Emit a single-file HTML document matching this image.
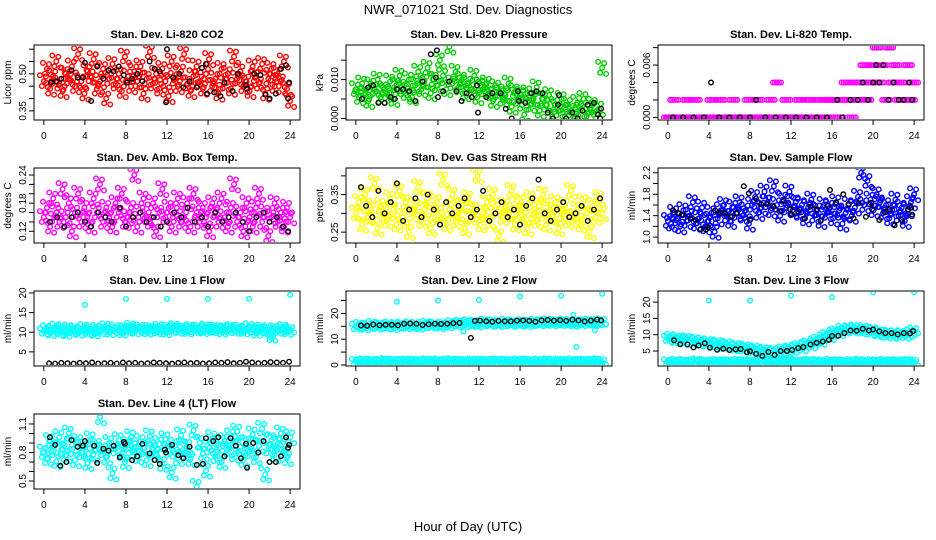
<!DOCTYPE html>
<html><head><meta charset="utf-8"><style>
body{margin:0;background:#fff}
svg{display:block;font-family:"Liberation Sans",Arial,sans-serif}
</style></head><body>
<svg id="chart" width="936" height="540" viewBox="0 0 936 540" xmlns="http://www.w3.org/2000/svg">
<defs id="defs"></defs>
<text x="468" y="14" font-size="13" text-anchor="middle">NWR_071021  Std. Dev. Diagnostics</text>
<text x="468" y="531" font-size="13" text-anchor="middle">Hour of Day (UTC)</text>
</svg>
<script>
const xTicks=[0,4,8,12,16,20,24];
// CO2
const co2Vals=[0.47,0.52,0.44,0.49,0.55,0.46,0.43,0.50,0.48,0.53,0.45,0.58,0.47,0.42,0.51,0.49,0.56,0.44,0.47,0.52,0.40,0.48,0.54,0.46,0.50,0.43,0.57,0.49,0.45,0.51,0.47,0.53,0.42,0.48,0.59,0.46,0.50,0.44,0.52,0.47,0.41,0.55,0.48,0.45,0.51,0.58,0.46,0.43,0.49,0.53,0.47,0.44,0.50,0.56,0.45,0.48,0.42,0.52,0.46,0.50,0.44,0.57,0.48,0.51,0.45,0.47,0.43,0.53,0.49,0.46,0.54,0.42,0.48,0.52,0.45,0.50,0.47,0.55,0.44,0.39];
const co2BlkH=[0.7,1.2,1.7,2.7,3.3,3.8,4.0,4.6,5.2,5.8,6.3,6.8,7.3,7.8,8.1,8.6,9.1,9.6,10.3,10.8,11.3,11.9,12.0,12.6,13.2,13.6,14.2,14.9,15.4,15.8,15.9,16.6,17.2,17.6,18.4,18.9,19.7,19.8,20.5,21.1,21.6,22.0,22.6,23.1,23.6,23.8,23.9];
const co2BlkV=[0.465,0.47,0.48,0.515,0.485,0.485,0.545,0.39,0.53,0.48,0.515,0.51,0.53,0.495,0.465,0.48,0.50,0.47,0.55,0.52,0.51,0.385,0.60,0.485,0.50,0.445,0.47,0.445,0.525,0.54,0.42,0.425,0.41,0.465,0.43,0.50,0.455,0.44,0.50,0.495,0.415,0.40,0.42,0.52,0.535,0.40,0.465];
// Pressure
const presVals=[0.0075,0.0055,0.0090,0.0065,0.0045,0.0085,0.0075,0.0100,0.0055,0.0075,0.0065,0.0095,0.0050,0.0085,0.0110,0.0075,0.0065,0.0100,0.0055,0.0085,0.0120,0.0075,0.0095,0.0130,0.0065,0.0100,0.0085,0.0150,0.0110,0.0075,0.0185,0.0090,0.0120,0.0080,0.0100,0.0065,0.0090,0.0075,0.0110,0.0055,0.0085,0.0075,0.0090,0.0065,0.0045,0.0080,0.0070,0.0050,0.0060,0.0090,0.0030,0.0070,0.0050,0.0060,0.0010,0.0065,0.0035,0.0050,0.0080,0.0020,0.0050,0.0035,0.0060,0.0005,0.0035,0.0020,0.0050,0.0005,0.0035,0.0020,0.0000,0.0040,0.0020,0.0050,0.0005,0.0025,0.0035,0.0000,0.0025,0.0130];
const presBlkH=[0.6,1.2,1.7,2.2,2.8,3.4,3.8,4.0,4.6,5.2,5.8,6.5,7.3,7.8,8.0,7.9,8.5,9.1,9.8,10.3,10.8,11.3,11.8,11.9,12.7,13.3,14.1,14.6,15.2,15.8,15.9,16.5,17.1,17.6,18.2,18.7,19.2,19.7,19.8,20.5,21.1,21.6,22.1,22.6,23.2,23.6,23.8,23.9];
const presBlkV=[0.005,0.008,0.0085,0.004,0.004,0.0055,0.005,0.0075,0.0075,0.007,0.0045,0.0095,0.0165,0.0105,0.0055,0.0175,0.007,0.0095,0.007,0.0045,0.0065,0.0055,0.0085,0.0015,0.0055,0.0065,0.0065,0.0025,0.000,0.007,0.0045,0.004,0.0065,0.007,0.0065,0.0015,0.000,0.0035,0.006,0.000,0.0015,0.000,0.002,0.0035,0.004,0.001,0.000,0.0025];
// Temp
const tempVals=[0,0,0.002,0,0,0,0.002,0,0,0.002,0,0,0,0,0.002,0,0,0.002,0,0,0,0.002,0,0,0,0,0.002,0,0,0.002,0,0,0,0.002,0,0.004,0,0,0.002,0,0,0,0.002,0,0,0.002,0,0,0.002,0,0,0.002,0.002,0,0.002,0,0.002,0.004,0.002,0,0.004,0.002,0.004,0.006,0.002,0.004,0.006,0.008,0.004,0.006,0.002,0.008,0.004,0.006,0.002,0.004,0.002,0.006,0.002,0.004];
const tempBlkH=[0.5,1.5,2.5,3.5,4.2,5,6,7,8,8.6,9.5,10.5,11.5,12.5,13.5,14.5,15.5,16.5,17,17.8,18.5,19,19.5,20,20.3,20.6,21,21.5,22,22.5,23,23.5,23.8];
const tempBlkV=[0,0,0,0,0.004,0,0,0,0,0.002,0,0,0,0,0,0,0,0.002,0,0.002,0.002,0.004,0.002,0.004,0.006,0.004,0.006,0.002,0.004,0.002,0.002,0.004,0.002];
// Amb box temp
const ambVals=[0.15,0.17,0.13,0.19,0.16,0.14,0.21,0.15,0.18,0.12,0.16,0.20,0.14,0.17,0.15,0.13,0.19,0.16,0.22,0.14,0.17,0.15,0.13,0.18,0.16,0.20,0.14,0.15,0.17,0.24,0.13,0.16,0.19,0.15,0.14,0.18,0.12,0.16,0.21,0.15,0.17,0.13,0.16,0.19,0.14,0.15,0.18,0.13,0.20,0.16,0.14,0.17,0.15,0.12,0.18,0.16,0.14,0.19,0.15,0.13,0.17,0.22,0.14,0.16,0.12,0.18,0.15,0.13,0.17,0.20,0.14,0.16,0.11,0.15,0.18,0.14,0.16,0.13,0.17,0.15];
const ambBlkH=[0.6,1.3,2,2.7,3.3,4,4.6,5.3,6,6.6,7.4,8,8.7,9.4,10,10.7,11.4,12,12.7,13.4,14,14.7,15.4,16,16.7,17.4,18,18.7,19.4,20,20.7,21.4,22,22.7,23.3,23.8];
const ambBlkV=[0.14,0.15,0.13,0.15,0.16,0.14,0.13,0.16,0.15,0.14,0.17,0.13,0.15,0.16,0.14,0.15,0.13,0.14,0.16,0.15,0.17,0.14,0.15,0.13,0.16,0.14,0.15,0.16,0.14,0.12,0.15,0.16,0.14,0.15,0.13,0.12];
// RH
const rhVals=[0.30,0.33,0.27,0.35,0.29,0.31,0.38,0.26,0.32,0.30,0.28,0.34,0.31,0.27,0.36,0.29,0.33,0.25,0.30,0.32,0.37,0.28,0.31,0.34,0.26,0.30,0.33,0.29,0.39,0.27,0.31,0.35,0.28,0.30,0.32,0.26,0.34,0.29,0.31,0.40,0.27,0.30,0.33,0.28,0.35,0.31,0.24,0.29,0.32,0.30,0.36,0.27,0.31,0.33,0.29,0.26,0.34,0.30,0.28,0.32,0.35,0.27,0.31,0.29,0.33,0.26,0.30,0.32,0.28,0.36,0.29,0.31,0.27,0.33,0.30,0.25,0.32,0.29,0.34,0.30];
const rhBlkH=[0.5,1.0,1.6,2.2,2.8,3.4,4.0,4.6,5.2,5.8,6.4,7.0,7.6,8.2,8.8,9.4,10,10.6,11.2,11.8,12.4,13,13.6,14.2,14.8,15.4,16,16.6,17.2,17.8,18.4,19,19.6,20.2,20.8,21.4,22,22.6,23.2,23.8];
const rhBlkV=[0.37,0.32,0.29,0.36,0.30,0.33,0.38,0.28,0.31,0.34,0.29,0.35,0.31,0.27,0.33,0.30,0.32,0.34,0.29,0.31,0.36,0.28,0.30,0.33,0.29,0.31,0.27,0.32,0.34,0.39,0.30,0.28,0.31,0.33,0.29,0.30,0.32,0.28,0.31,0.34];
// Sample flow
const sfVals=[1.30,1.25,1.45,1.35,1.20,1.50,1.30,1.40,1.65,1.25,1.35,1.55,1.20,1.30,1.45,1.10,1.35,1.50,1.60,1.40,1.30,1.55,1.45,1.65,1.40,1.50,1.25,1.60,1.75,1.45,1.55,1.85,1.65,1.50,1.95,1.60,1.40,1.70,1.55,1.85,1.50,1.65,1.45,1.60,1.35,1.55,1.70,1.40,1.50,1.30,1.60,1.45,1.55,1.35,1.65,1.50,1.25,1.45,1.60,1.40,1.55,1.75,2.20,1.60,2.05,1.70,1.50,1.80,1.65,1.45,1.60,1.35,1.50,1.70,1.40,1.55,1.30,1.50,1.65,1.80];
const sfBlkH=[0.5,1,1.5,2.2,2.7,3.2,3.7,3.9,4.6,5.1,5.6,6.1,6.7,7.4,7.9,8.0,8.6,9.1,9.7,10.3,10.9,11.3,11.9,12.1,12.7,13.3,13.9,14.5,14.9,15.6,15.8,16.4,17.1,17.6,18.1,18.6,19.3,19.8,19.9,20.6,21.1,21.6,22.1,22.8,23.4,23.7,23.8];
const sfBlkV=[1.5,1.45,1.42,1.35,1.32,1.15,1.14,1.18,1.50,1.46,1.44,1.38,1.45,1.95,1.82,1.32,1.72,1.61,1.62,1.57,1.48,1.68,1.52,1.42,1.48,1.35,1.57,1.52,1.31,1.58,1.88,1.64,1.8,1.62,1.35,1.63,1.38,1.64,1.52,1.32,1.47,1.52,1.22,1.32,1.52,1.55,1.42];
// Line 1
const l1Vals=[10.2,11.0,9.8,10.6,11.4,10.0,10.8,9.6,11.2,10.4,10.9,9.9,10.5,11.3,10.1,10.7,9.7,11.1,10.3,10.8,11.5,10.0,10.6,11.2,10.4,9.9,11.0,10.7,11.6,10.2,10.9,11.3,10.5,10.1,11.1,10.8,10.3,11.4,10.6,10.0,11.2,10.7,11.5,10.4,10.9,11.0,10.2,11.3,10.6,10.8,11.1,10.3,11.4,10.7,10.5,11.2,10.9,10.1,11.0,10.6,11.3,10.4,10.8,11.1,10.2,10.7,11.5,10.5,9.8,10.9,11.2,10.3,10.6,8.6,11.0,10.4,10.8,11.3,10.1,10.7];
const l1OutH=[4,8,12,16,20,24];
const l1OutV=[17,18.5,18.5,18.5,18.5,19.5];
const l1BlkH=[0.5,1.1,1.7,2.3,2.9,3.5,4.1,4.7,5.3,5.9,6.5,7.1,7.7,8.3,8.9,9.5,10.1,10.7,11.3,11.9,12.5,13.1,13.7,14.3,14.9,15.5,16.1,16.7,17.3,17.9,18.5,19.1,19.7,20.3,20.9,21.5,22.1,22.7,23.3,23.9];
const l1BlkV=[2.1,2.0,2.2,2.1,2.0,2.2,2.1,2.3,2.0,2.1,2.2,2.0,2.3,2.1,2.2,2.0,2.1,2.3,2.2,2.1,2.0,2.2,2.3,2.1,2.2,2.0,2.1,2.3,2.2,2.4,2.1,2.2,2.5,2.3,2.1,2.2,2.4,2.3,2.2,2.5];
// Line 2
const l2Vals=[14.8,15.5,14.6,15.2,15.9,14.9,15.4,15.1,15.7,14.7,15.3,15.6,15.0,15.8,15.2,14.9,15.5,16.0,15.3,15.7,15.1,15.6,15.4,16.2,15.8,16.4,15.9,16.6,16.1,15.7,16.3,16.8,16.0,16.5,15.9,16.2,16.7,16.0,16.4,16.1,16.6,15.9,16.3,16.8,16.2,16.5,17.0,16.1,16.6,16.3,16.9,16.4,16.0,16.7,16.2,16.5,16.8,16.3,16.6,16.9];
const l2LowVals=[1.2,1.0,1.4,1.1,1.3,1.0,1.2,1.5,1.1,1.3,1.0,1.2,1.4,1.1,1.3,1.2,1.0,1.4,1.2,1.1,1.3,1.0,1.2,1.5,1.1,1.3,1.2,1.0,1.4,1.1,1.2,1.3,1.0,1.2,1.4,1.1,1.3,1.2,1.0,1.4,1.1,1.3,1.2,1.0,1.3,1.1,1.4,1.2,1.0,1.3,1.2,1.1,1.4,1.0,1.2,1.3,1.1,1.2,1.4,1.2];
const l2OutH=[4,8,10.5,12,16,20,21.2,21.5,23.3,24];
const l2OutV=[24.5,25,13,25.2,26.6,26.8,19.5,7,13.5,27.6];
const l2BlkH=[0.5,1.1,1.7,2.3,2.9,3.5,4.1,4.7,5.3,5.9,6.5,7.1,7.7,8.3,8.9,9.5,10.1,11.2,11.6,12.1,12.7,13.3,13.9,14.5,15.1,15.7,16.3,16.9,17.5,18.1,18.7,19.3,19.9,20.5,21.1,21.7,22.3,22.9,23.5,23.9];
const l2BlkV=[15.3,15.2,15.7,15.4,15.6,15.6,15.4,16.0,16.1,16.0,15.5,15.8,16.0,15.9,16.0,16.2,16.3,10.5,17.1,17.2,17.0,16.8,17.1,17.0,16.9,17.2,17.3,17.1,16.8,17.3,17.5,17.2,17.4,17.1,17.6,17.3,16.9,17.2,17.6,17.3];
// Line 3
const l3Vals=[8.8,9.4,8.2,9.0,8.6,7.9,8.9,8.3,7.6,8.5,7.8,8.2,7.1,7.9,7.4,6.8,7.6,6.9,6.4,7.2,6.5,5.9,6.7,6.0,5.5,6.3,5.6,5.1,5.9,5.2,4.6,5.4,4.8,4.3,5.1,4.5,4.9,5.5,5.0,5.8,5.3,6.1,6.5,5.9,6.9,7.3,6.8,7.9,8.4,7.9,9.2,9.8,9.3,10.6,11.0,10.5,11.8,11.3,12.0,11.5,12.2,11.6,11.1,12.0,11.4,10.8,11.5,10.2,10.9,10.4,9.8,10.6,9.6,10.3,9.9,10.5,9.7,10.2,10.8,11.3];
const l3LowVals=[1.5,1.3,1.7,1.4,1.6,1.3,1.5,1.8,1.4,1.6,1.3,1.5,1.7,1.4,1.6,1.5,1.3,1.7,1.5,1.4,1.6,1.3,1.5,1.8,1.4,1.6,1.5,1.3,1.7,1.4,1.5,1.6,1.3,1.5,1.7,1.4,1.6,1.5,1.3,1.7,1.4,1.6,1.5,1.3,1.6,1.4,1.7,1.5,1.3,1.6,1.5,1.4,1.7,1.3,1.5,1.6,1.4,1.5,1.7,1.5];
const l3OutH=[4,8,12,16,20,24];
const l3OutV=[20.5,20.5,22,21.5,23,23];
const l3BlkH=[0.6,1.2,1.9,2.5,3.0,3.6,4.1,4.8,5.4,6.0,6.6,7.1,7.7,8.0,8.6,9.2,9.8,10.4,11.0,11.6,12.1,12.7,13.2,13.9,14.5,15.1,15.7,16.0,16.6,17.2,17.8,18.4,19.0,19.6,20.0,20.6,21.2,21.8,22.4,23.0,23.6,23.9];
const l3BlkV=[8.3,7.1,7.0,6.1,6.7,7.4,6.0,5.4,5.7,5.3,5.5,5.6,4.6,4.9,4.1,3.5,4.7,3.8,5.0,5.0,5.3,5.9,6.2,7.0,7.5,7.9,8.4,9.6,9.7,10.5,11.3,11.2,11.8,11.3,11.6,11.0,10.5,10.5,10.1,10.5,10.4,11.1];
// Line 4
const l4Vals=[0.80,0.74,0.92,0.86,0.71,0.96,0.83,0.77,1.00,0.88,0.72,0.91,0.80,0.85,0.69,0.94,0.78,0.87,1.17,0.82,0.75,0.90,0.58,0.84,0.93,0.79,0.70,0.88,0.96,0.81,0.76,0.91,0.85,0.72,0.97,0.83,0.78,0.89,0.68,0.94,0.82,0.59,0.87,0.74,0.98,0.80,0.86,0.73,1.03,0.44,0.90,0.79,0.61,0.85,0.95,0.76,0.88,0.70,0.92,0.83,0.97,0.78,1.02,0.86,0.72,0.90,0.81,0.99,0.75,0.87,1.05,0.57,0.84,0.93,0.77,0.89,1.00,0.82,0.74,0.96];
const l4BlkH=[0.6,1.1,1.6,2.2,2.7,3.3,3.8,4.0,4.9,5.2,5.8,6.3,6.8,7.4,7.8,7.9,8.6,9.1,9.6,10.3,10.8,11.3,11.8,11.9,12.5,13.1,13.6,14.2,14.9,15.5,15.8,16.5,17.0,17.6,18.2,18.7,19.2,19.7,19.8,20.4,20.9,21.4,22.0,22.6,23.1,23.6,23.8,23.9];
const l4BlkV=[0.96,0.88,0.66,0.70,0.93,0.86,0.87,0.92,0.87,0.69,0.84,0.82,0.87,0.75,0.91,0.89,0.72,0.76,0.89,0.79,0.72,0.68,0.83,0.80,0.88,0.77,0.74,0.86,0.67,0.68,0.95,0.92,0.96,0.76,0.95,0.87,0.74,0.89,0.64,0.90,0.80,0.92,0.70,0.70,0.76,0.96,0.85,0.88];

const panels=[
 {name:'co2',title:'Stan. Dev. Li-820 CO2',ylab:'Licor ppm',col:0,row:0,ymin:0.313,ymax:0.617,ticks:[0.35,0.40,0.45,0.50,0.55,0.60],labels:['0.35','','','0.50','',''],spread:[4,6],
  series:[{v:co2Vals,c:'#ff0000',dense:true},{h:co2BlkH,v:co2BlkV,c:'#000'}]},
 {name:'pressure',title:'Stan. Dev. Li-820 Pressure',ylab:'kPa',col:1,row:0,ymin:-0.0004,ymax:0.0189,ticks:[0,0.005,0.010,0.015],labels:['0.000','','0.010',''],spread:[4,6],
  series:[{v:presVals,c:'#00cd00',dense:true},{h:presBlkH,v:presBlkV,c:'#000'}]},
 {name:'temp',title:'Stan. Dev. Li-820 Temp.',ylab:'degrees C',col:2,row:0,ymin:-0.0003,ymax:0.0083,ticks:[0,0.002,0.004,0.006,0.008],labels:['0.000','','','0.006',''],spread:[4,0],
  series:[{v:tempVals,c:'#ff00ff',dense:true},{h:tempBlkH,v:tempBlkV,c:'#000'}]},
 {name:'amb-box',title:'Stan. Dev. Amb. Box Temp.',ylab:'degrees C',col:0,row:1,ymin:0.095,ymax:0.255,ticks:[0.12,0.14,0.16,0.18,0.20,0.22,0.24],labels:['0.12','','','0.18','','','0.24'],spread:[4,6],
  series:[{v:ambVals,c:'#ff00ff',dense:true},{h:ambBlkH,v:ambBlkV,c:'#000'}]},
 {name:'gas-rh',title:'Stan. Dev. Gas Stream RH',ylab:'percent',col:1,row:1,ymin:0.221,ymax:0.421,ticks:[0.25,0.30,0.35,0.40],labels:['0.25','','0.35',''],spread:[4,6],
  series:[{v:rhVals,c:'#ffff00',dense:true},{h:rhBlkH,v:rhBlkV,c:'#000'}]},
 {name:'sample-flow',title:'Stan. Dev. Sample Flow',ylab:'ml/min',col:2,row:1,ymin:0.89,ymax:2.29,ticks:[1.0,1.2,1.4,1.6,1.8,2.0,2.2],labels:['1.0','','1.4','','1.8','','2.2'],spread:[4,6],
  series:[{v:sfVals,c:'#0000ff',dense:true},{h:sfBlkH,v:sfBlkV,c:'#000'}]},
 {name:'line1',title:'Stan. Dev. Line 1 Flow',ylab:'ml/min',col:0,row:2,ymin:1.4,ymax:20.5,ticks:[5,10,15,20],labels:['5','10','15','20'],spread:[4,3],
  series:[{v:l1Vals,c:'#00ffff',dense:true},{h:l1OutH,v:l1OutV,c:'#00ffff'},{h:l1BlkH,v:l1BlkV,c:'#000'}]},
 {name:'line2',title:'Stan. Dev. Line 2 Flow',ylab:'ml/min',col:1,row:2,ymin:-0.4,ymax:28.7,ticks:[0,5,10,15,20,25],labels:['0','','10','','20',''],spread:[4,3],
  series:[{v:l2Vals,c:'#00ffff',dense:true},{v:l2LowVals,c:'#00ffff',dense:true},{h:l2OutH,v:l2OutV,c:'#00ffff'},{h:l2BlkH,v:l2BlkV,c:'#000'}]},
 {name:'line3',title:'Stan. Dev. Line 3 Flow',ylab:'ml/min',col:2,row:2,ymin:0.4,ymax:23.4,ticks:[5,10,15,20],labels:['5','10','15','20'],spread:[4,3],
  series:[{v:l3Vals,c:'#00ffff',dense:true},{v:l3LowVals,c:'#00ffff',dense:true},{h:l3OutH,v:l3OutV,c:'#00ffff'},{h:l3BlkH,v:l3BlkV,c:'#000'}]},
 {name:'line4',title:'Stan. Dev. Line 4 (LT) Flow',ylab:'ml/min',col:0,row:3,ymin:0.416,ymax:1.205,ticks:[0.5,0.6,0.7,0.8,0.9,1.0,1.1],labels:['0.5','','','0.8','','','1.1'],spread:[4,6],
  series:[{v:l4Vals,c:'#00ffff',dense:true},{h:l4BlkH,v:l4BlkV,c:'#000'}]}
];
const NS='http://www.w3.org/2000/svg';
const svg=document.getElementById('chart');
const defs=document.getElementById('defs');
const rowTops=[45,168,291,414];
// marker cluster offsets (rendering style for dense clouds), in px units
const clusterDx=[0,-1,1,-0.5,0.5];
const clusterDy=[0,-1,1,0.8,-0.8];
function mk(tag,attrs,parent){const e=document.createElementNS(NS,tag);for(const k in attrs)e.setAttribute(k,attrs[k]);parent.appendChild(e);return e;}
panels.forEach(p=>{
  const L=34+p.col*312,R=L+266,T=rowTops[p.row],B=T+75;
  const xs=h=>L+(h+0.96)/25.92*266;
  const ys=v=>B-(v-p.ymin)/(p.ymax-p.ymin)*75;
  const cp=mk('clipPath',{id:'clip-'+p.name},defs);
  mk('rect',{x:L+1,y:T+1,width:R-L-2,height:B-T-2},cp);
  const g=mk('g',{},svg);
  
  
  const pts=mk('g',{fill:'none','stroke-width':'1.4','clip-path':'url(#clip-'+p.name+')'},g);
  
  
  p.series.forEach(s=>{
    s.v.forEach((v,i)=>{
      const h=s.h?s.h[i]:i*24/(s.v.length-1);
      const cx=xs(h),cy=ys(v);
      const n=s.dense?clusterDx.length:1;
      for(let k=0;k<n;k++){
        const c=mk('circle',{cx:(cx+clusterDx[k]*p.spread[0]).toFixed(1),cy:(cy+clusterDy[k]*p.spread[1]).toFixed(1),r:2.3,stroke:s.c},pts);
        
        
      }
    });
  });
  const box=mk('rect',{x:L,y:T,width:R-L,height:B-T,fill:'none',stroke:'#000','stroke-width':1},g);
  
  
  const t=mk('text',{x:(L+R)/2,y:T-7,'font-size':11,'font-weight':'bold','text-anchor':'middle'},g);
  t.textContent=p.title;
  
  
  const yl=mk('text',{x:0,y:0,'font-size':10,'text-anchor':'middle',transform:`translate(${L-23},${(T+B)/2}) rotate(-90)`},g);
  yl.textContent=p.ylab;
  
  
  mk('line',{x1:xs(0),x2:xs(24),y1:B,y2:B,stroke:'#000'},g);
  xTicks.forEach(h=>{
    const x=xs(h);
    mk('line',{x1:x,x2:x,y1:B,y2:B+5,stroke:'#000'},g);
    const tl=mk('text',{x:x,y:B+19,'font-size':10,'text-anchor':'middle'},g);
    tl.textContent=h;
    
    
  });
  p.ticks.forEach((v,i)=>{
    const y=ys(v);
    mk('line',{x1:L-5,x2:L,y1:y,y2:y,stroke:'#000'},g);
    if(p.labels[i]){
      const tl=mk('text',{x:0,y:0,'font-size':10,'text-anchor':'middle',transform:`translate(${L-8},${y}) rotate(-90)`},g);
      tl.textContent=p.labels[i];
      
      
    }
  });
});
</script>
</body></html>
